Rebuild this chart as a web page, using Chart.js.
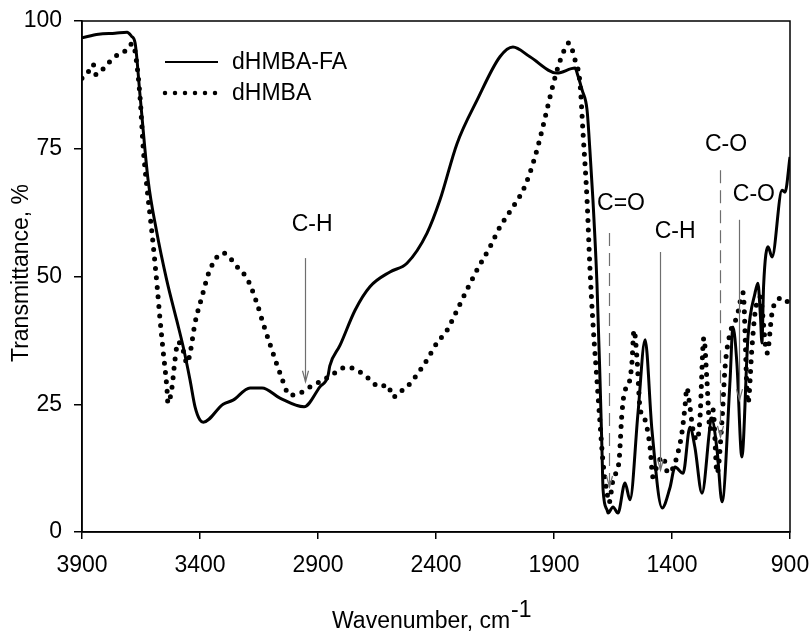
<!DOCTYPE html>
<html>
<head>
<meta charset="utf-8">
<script src="https://cdn.jsdelivr.net/npm/chart.js"></script>
<style>
  html, body { margin: 0; padding: 0; background: #fff; }
  canvas { display: block; }
</style>
</head>
<body>
<canvas id="ftir" width="812" height="634"></canvas>
<script>
// dHMBA-FA (solid)
const waveFA = [3900, 3830, 3760, 3709, 3690, 3675, 3654, 3620, 3585, 3541, 3499, 3471, 3442, 3421, 3400, 3386,
  3302, 3260, 3188, 3137, 3061, 2959, 2892, 2858, 2850, 2807, 2743, 2680, 2595, 2523, 2438, 2383, 2311, 2226,
  2129, 2074, 2002, 1887, 1811, 1800, 1781, 1760, 1748, 1735, 1718, 1705, 1697, 1692, 1675, 1671, 1650, 1629,
  1599, 1578, 1544, 1514, 1485, 1442, 1409, 1387, 1353, 1324, 1303, 1273, 1231, 1209, 1188, 1154, 1142, 1125,
  1104, 1078, 1048, 1036, 1025, 1019, 1012, 993, 976, 934, 921, 900];
const transFA = [96.7, 97.4, 97.6, 97.8, 97, 95.7, 85.4, 68.9, 59.1, 49.3, 41.5, 36.2, 29.7, 24.5, 21.9, 21.5,
  25, 25.8, 28.2, 28.2, 26.2, 24.5, 28.4, 30.5, 32.5, 36.5, 43.4, 48, 50.9, 52.6, 58.5, 65, 76, 84.5,
  93, 94.9, 93, 89.8, 90.8, 89.5, 86.5, 82.6, 74.8, 65, 48.7, 29.7, 16.6, 8.2, 4.3, 3.7, 4.9, 3.7,
  9.6, 6.3, 23.3, 37.6, 20, 4.7, 8.6, 12.7, 11.5, 20.5, 16.6, 7.6, 21.9, 16, 5.9, 29.7, 40.1, 33,
  14.7, 38.2, 46.8, 48.7, 42, 37, 48, 55.8, 53.8, 66.9, 66.5, 73.4];

// dHMBA (dotted)
const waveH = [3900, 3880, 3853, 3840, 3803, 3773, 3739, 3705, 3690, 3684, 3670, 3654, 3640, 3625, 3603, 3582,
  3570, 3557, 3540, 3536, 3519, 3506, 3493, 3472, 3455, 3442, 3421, 3392, 3358, 3302, 3243, 3197, 3159, 3133,
  3095, 3061, 3019, 2976, 2934, 2892, 2850, 2777, 2722, 2692, 2667, 2637, 2608, 2595, 2582, 2553, 2523, 2498,
  2438, 2396, 2353, 2311, 2269, 2226, 2171, 2129, 2074, 2031, 2002, 1972, 1947, 1917, 1887, 1862, 1837, 1811,
  1790, 1777, 1760, 1748, 1735, 1718, 1705, 1692, 1675, 1667, 1650, 1633, 1624, 1612, 1599, 1587, 1570, 1561,
  1548, 1536, 1514, 1493, 1481, 1460, 1438, 1417, 1396, 1375, 1358, 1345, 1337, 1324, 1311, 1294, 1282, 1265,
  1252, 1239, 1226, 1209, 1188, 1175, 1154, 1125, 1099, 1078, 1061, 1048, 1027, 997, 976, 955, 930, 900];
const transH = [88.8, 89.5, 91.5, 89.5, 91, 92.5, 93.7, 94.5, 95.5, 95.5, 92.4, 85.1, 74.8, 67.5, 58.3, 48.3,
  41.9, 35.8, 28, 25.2, 28.2, 33.7, 37.2, 35.6, 33, 35, 40.9, 46, 51.3, 54.6, 51.9, 49.3, 44.8, 40.9,
  35.6, 31.1, 26.8, 27.2, 28.4, 29.4, 30.5, 32.3, 31.3, 30.3, 29.2, 28.4, 28.8, 27.8, 26.4, 27.4, 28.4, 29.7,
  33.7, 37, 39.5, 43.4, 47.4, 51.3, 55.8, 59.7, 63.6, 66.9, 70.3, 74.8, 79.3, 85.1, 90.4, 93.7, 95.7, 92.4,
  87.9, 78.1, 65, 51.9, 40.9, 29.7, 21.3, 13.5, 7.6, 5.7, 10.2, 12.1, 14.1, 23.3, 27.8, 28.4, 33, 39.5,
  33.7, 24.5, 21.9, 16.6, 10.8, 13.5, 14.7, 11.5, 12.5, 15.5, 19.4, 24.5, 28.2, 24.5, 20, 18, 21.9, 38,
  29.7, 20, 23.9, 11.5, 21.9, 32.3, 38.9, 42.1, 46.8, 25.2, 36.2, 42.9, 46, 35, 42.9, 45.4, 45.8, 44.4];

const seriesNames = ['dHMBA-FA', 'dHMBA'];
const xTicks = [3900, 3400, 2900, 2400, 1900, 1400, 900];
const yTicks = [0, 25, 50, 75, 100];

// band markers
const bandLabels = ['C-H', 'C=O', 'C-H', 'C-O', 'C-O'];
const bandWave = [2955, 1667, 1451, 1197, 1116];
const bandTop = [53.6, 58.5, 54.8, 70.8, 61.1];
const bandBottom = [29.4, 8.8, 12.1, 18.6, 25.8];
const bandTextWave = [2925, 1616, 1387, 1171, 1053];
const bandTextY = [60.1, 64.3, 58.8, 75.8, 66];
const bandDashed = [false, true, false, true, false];

const FONT = '"Liberation Sans", Arial, sans-serif';

const pts = (xs, ys) => xs.map((x, i) => ({ x: x, y: ys[i] }));

const extras = {
  id: 'extras',
  afterDatasetsDraw(chart) {
    const { ctx, chartArea: a, scales: { x, y } } = chart;
    ctx.save();

    // band marker lines with small open arrowheads
    ctx.strokeStyle = '#6e6e6e';
    ctx.lineWidth = 1.2;
    bandLabels.forEach((lab, i) => {
      const px = Math.round(x.getPixelForValue(bandWave[i])) + 0.5;
      const y0 = y.getPixelForValue(bandTop[i]);
      const y1 = y.getPixelForValue(bandBottom[i]);
      ctx.setLineDash(bandDashed[i] ? [13, 7] : []);
      ctx.beginPath();
      ctx.moveTo(px, y0);
      ctx.lineTo(px, y1);
      ctx.stroke();
      ctx.setLineDash([]);
      ctx.beginPath();
      ctx.moveTo(px - 3, y1 - 11);
      ctx.lineTo(px, y1);
      ctx.lineTo(px + 3, y1 - 11);
      ctx.stroke();
    });
    ctx.fillStyle = '#000';
    ctx.font = '23px ' + FONT;
    ctx.textAlign = 'center';
    ctx.textBaseline = 'middle';
    bandLabels.forEach((lab, i) => {
      ctx.fillText(lab, x.getPixelForValue(bandTextWave[i]), y.getPixelForValue(bandTextY[i]));
    });

    // legend
    const lx0 = 165, lx1 = 218;
    ctx.strokeStyle = '#000';
    ctx.lineWidth = 2;
    ctx.beginPath();
    ctx.moveTo(lx0, 62);
    ctx.lineTo(lx1, 62);
    ctx.stroke();
    ctx.lineWidth = 4.5;
    ctx.lineCap = 'round';
    ctx.setLineDash([0, 10]);
    ctx.beginPath();
    ctx.moveTo(lx0, 93);
    ctx.lineTo(lx1, 93);
    ctx.stroke();
    ctx.setLineDash([]);
    ctx.lineCap = 'butt';
    ctx.textAlign = 'left';
    ctx.fillText(seriesNames[0], 232, 63);
    ctx.fillText(seriesNames[1], 232, 94);

    // frame
    ctx.strokeStyle = '#000';
    ctx.lineWidth = 1.5;
    ctx.strokeRect(a.left, a.top, a.right - a.left, a.bottom - a.top);

    // axis titles
    ctx.textBaseline = 'alphabetic';
    ctx.textAlign = 'left';
    const t1 = 'Wavenumber, cm';
    ctx.fillText(t1, 332, 628);
    ctx.fillText('-1', 332 + ctx.measureText(t1).width + 1, 617);
    ctx.translate(28, 273);
    ctx.rotate(-Math.PI / 2);
    ctx.textAlign = 'center';
    ctx.fillText('Transmittance, %', 0, 0);
    ctx.restore();
  }
};

new Chart(document.getElementById('ftir'), {
  type: 'scatter',
  data: {
    datasets: [
      {
        label: seriesNames[0],
        data: pts(waveFA, transFA),
        showLine: true,
        borderColor: '#000',
        borderWidth: 3,
        pointRadius: 0,
        cubicInterpolationMode: 'monotone'
      },
      {
        label: seriesNames[1],
        data: pts(waveH, transH),
        showLine: true,
        borderColor: '#000',
        borderWidth: 5,
        borderDash: [0, 9.5],
        borderCapStyle: 'round',
        pointRadius: 0,
        cubicInterpolationMode: 'monotone'
      }
    ]
  },
  options: {
    responsive: false,
    animation: false,
    layout: { padding: { top: 21, right: 22, left: 0, bottom: 0 } },
    plugins: { legend: { display: false }, tooltip: { enabled: false } },
    scales: {
      x: {
        type: 'linear',
        reverse: true,
        min: 900,
        max: 3900,
        afterBuildTicks: s => { s.ticks = xTicks.map(v => ({ value: v })); },
        afterFit: s => { s.height = 102; s.paddingLeft = 0; s.paddingRight = 0; },
        ticks: { color: '#000', font: { family: FONT, size: 23 }, padding: 13, maxRotation: 0, callback: v => String(v) },
        grid: { drawOnChartArea: false, drawTicks: true, tickLength: 7, color: '#000', lineWidth: 1.5 },
        border: { color: '#000', width: 1.5 }
      },
      y: {
        min: 0,
        max: 100,
        afterBuildTicks: s => { s.ticks = yTicks.map(v => ({ value: v })); },
        afterFit: s => { s.width = 82; s.paddingTop = 0; s.paddingBottom = 0; },
        ticks: { color: '#000', font: { family: FONT, size: 23 }, padding: 12, callback: v => String(v) },
        grid: { drawOnChartArea: false, drawTicks: true, tickLength: 8, color: '#000', lineWidth: 1.5 },
        border: { color: '#000', width: 1.5 }
      }
    }
  },
  plugins: [extras]
});
</script>
</body>
</html>
